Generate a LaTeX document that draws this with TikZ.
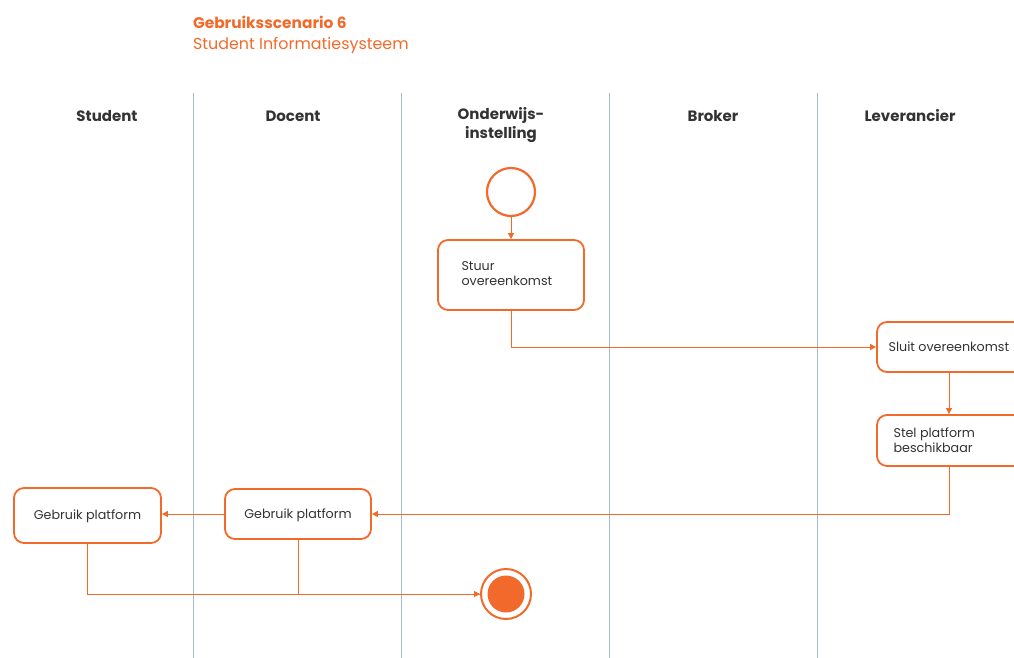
\documentclass[tikz,border=0pt]{standalone}
\usepackage{fontspec}
\setmainfont{Poppins}
\usetikzlibrary{arrows.meta}
\definecolor{org}{HTML}{F26A2B}
\definecolor{lane}{HTML}{A9B6C4}
\definecolor{txt}{HTML}{333333}
\tikzset{
  lanel/.style={draw=lane, line width=1pt},
  hdr/.style={font=\fontsize{15}{19}\selectfont\bfseries, text=txt, align=center},
  act/.style={draw=org, line width=1.8pt, rounded corners=10pt, fill=white, inner sep=0pt},
  lbl/.style={font=\fontsize{12.7}{15}\selectfont, text=txt, align=left},
  conn/.style={draw=org, line width=1pt, -{Triangle[length=6pt,width=6pt]}},
  plain/.style={draw=org, line width=1pt},
}
\begin{document}
\begin{tikzpicture}[x=1pt,y=-1pt]
\useasboundingbox (0,0) rectangle (1014,658);
\clip (0,0) rectangle (1014,658);
% title
\node[anchor=west, text=org, font=\fontsize{15.4}{17}\selectfont\bfseries] (t1) at (189.5,22) {Gebruiksscenario 6};
\node[anchor=west, text=org, font=\fontsize{15.9}{17}\selectfont] (t2) at (189.5,45) {Student Informatiesysteem};
% lanes
\foreach \x in {193,401,609,817} \draw[lanel] (\x,93) -- (\x,658);
\node[hdr] (h1) at (107,116) {Student};
\node[hdr] (h2) at (293,116) {Docent};
\node[hdr] (h3) at (501,125.5) {Onderwijs-\\instelling};
\node[hdr] (h4) at (713,116) {Broker};
\node[hdr] (h5) at (910,116) {Leverancier};
% start
\node[draw=org, line width=2.2pt, circle, minimum size=48pt, inner sep=0pt] (start) at (511,192) {};
% boxes
\node[act, minimum width=146pt, minimum height=70pt] (stuur) at (511,275) {};
\node[lbl, anchor=west] (stuurt) at (458,274) {Stuur\\overeenkomst};
\node[act, minimum width=160pt, minimum height=50pt] (sluit) at (957,347) {};
\node[lbl, anchor=west] (sluitt) at (885,346.5) {Sluit overeenkomst};
\node[act, minimum width=160pt, minimum height=51pt] (stel) at (957,440.5) {};
\node[lbl, anchor=west] (stelt) at (890,440.5) {Stel platform\\beschikbaar};
\node[act, minimum width=146pt, minimum height=50pt] (doc) at (298,514) {};
\node[lbl] (doct) at (298,515) {Gebruik platform};
\node[act, minimum width=147pt, minimum height=55pt] (stu) at (87.5,515.5) {};
\node[lbl] (stut) at (87.5,516) {Gebruik platform};
% end
\node[draw=org, line width=2pt, circle, minimum size=50pt, inner sep=0pt] (end) at (506,594) {};
\fill[org] (end.center) circle (18.5pt);
% connectors
\draw[conn] (start) -- (stuur);
\draw[conn] (stuur.south) |- (sluit.west |- 0,347);
\draw[conn] (sluit.south -| 949,0) -- (stel.north -| 949,0);
\draw[conn] (stel.south -| 949,0) |- (doc.east);
\draw[conn] (doc.west) -- (stu.east |- doc.west);
\draw[plain] (doc.south) |- (end.west);
\draw[conn] (stu.south) |- (end.west);
\end{tikzpicture}
\end{document}
